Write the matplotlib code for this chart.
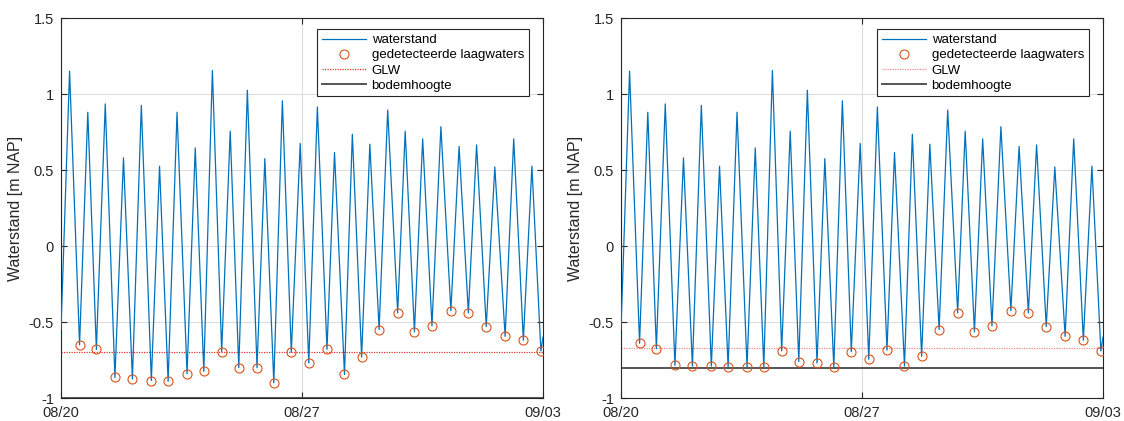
import matplotlib
matplotlib.use("Agg")
import matplotlib.pyplot as plt
import numpy as np

plt.rcParams['font.family'] = ['Liberation Sans', 'DejaVu Sans']

# days since 08/20
peak_t = [0.249, 0.778, 1.286, 1.815, 2.333, 2.862, 3.370, 3.899, 4.397, 4.915,
          5.413, 5.921, 6.430, 6.948, 7.446, 7.944, 8.462, 8.970, 9.489, 9.997,
          10.505, 11.034, 11.563, 12.071, 12.600, 13.149, 13.678]
peak_v = [1.15, 0.88, 0.935, 0.58, 0.925, 0.525, 0.88, 0.645, 1.155, 0.755,
          1.025, 0.575, 0.955, 0.675, 0.915, 0.615, 0.735, 0.67, 0.895, 0.755,
          0.705, 0.785, 0.655, 0.665, 0.52, 0.705, 0.525]
low_t = [0.539, 1.027, 1.566, 2.074, 2.624, 3.111, 3.661, 4.148, 4.667, 5.164,
         5.693, 6.181, 6.689, 7.197, 7.726, 8.234, 8.732, 9.240, 9.779, 10.266,
         10.775, 11.324, 11.832, 12.351, 12.900, 13.429, 13.938]
low_left = [-0.65, -0.68, -0.865, -0.875, -0.885, -0.89, -0.84, -0.825, -0.695, -0.80,
            -0.80, -0.90, -0.70, -0.77, -0.68, -0.845, -0.73, -0.55, -0.44, -0.565,
            -0.525, -0.425, -0.44, -0.53, -0.595, -0.62, -0.69]
low_right = [-0.64, -0.675, -0.785, -0.79, -0.79, -0.795, -0.795, -0.795, -0.69, -0.76,
             -0.77, -0.795, -0.695, -0.745, -0.685, -0.79, -0.725, -0.55, -0.44, -0.565,
             -0.525, -0.425, -0.44, -0.53, -0.595, -0.62, -0.69]
start_t, start_v = 0.0, -0.55
end_t, end_v = 14.0, -0.6

glw_left, glw_right = -0.70, -0.67
bodem_left, bodem_right = -1.0, -0.805

xtick_pos = [0, 7, 14]
xtick_lab = ['08/20', '08/27', '09/03']
ytick_pos = [-1, -0.5, 0, 0.5, 1, 1.5]
ytick_lab = ['-1', '-0.5', '0', '0.5', '1', '1.5']


def series(lows):
    t = np.array([start_t] + peak_t + low_t + [end_t])
    v = np.array([start_v] + peak_v + lows + [end_v])
    order = np.argsort(t)
    return t[order], v[order]


fig = plt.figure(figsize=(11.24, 4.21), dpi=100)
ax1 = fig.add_axes([61 / 1124, 23 / 421, 482 / 1124, 380 / 421])
ax2 = fig.add_axes([621 / 1124, 23 / 421, 482 / 1124, 380 / 421])

dark = '#262626'
for ax, lows, glw, bodem, glwcol in [(ax1, low_left, glw_left, bodem_left, '#e3342a'),
                                     (ax2, low_right, glw_right, bodem_right, '#f08a8a')]:
    t, v = series(lows)
    ax.plot(t, v, color='#0072BD', lw=0.9, label='waterstand', zorder=3)
    ax.plot(low_t, lows, 'o', mfc='none', mec='#D95319', ms=6.5, mew=0.8,
            label='gedetecteerde laagwaters', zorder=4)
    ax.axhline(glw, color=glwcol, ls=(0, (1, 1)), lw=0.9, label='GLW', zorder=2)
    ax.axhline(bodem, color='#555555', lw=1.4, label='bodemhoogte', zorder=2)

    ax.set_xlim(0, 14)
    ax.set_ylim(-1, 1.5)
    ax.set_xticks(xtick_pos)
    ax.set_xticklabels(xtick_lab)
    ax.set_yticks(ytick_pos)
    ax.set_yticklabels(ytick_lab)
    ax.grid(True, color='#dcdcdc', lw=0.8)
    ax.set_axisbelow(True)
    ax.tick_params(direction='in', top=True, right=True, length=4, width=0.8,
                   colors=dark, labelsize=10.5)
    ax.tick_params(axis='x', pad=6)
    ax.tick_params(axis='y', pad=5)
    for s in ax.spines.values():
        s.set_color(dark)
        s.set_linewidth(0.8)
    ax.set_ylabel('Waterstand [m NAP]', fontsize=11.5, color=dark, labelpad=4)
    leg = ax.legend(loc='upper right', bbox_to_anchor=(0.97, 0.97), fontsize=9.5,
                    handlelength=3.3, handletextpad=0.45, borderpad=0.35,
                    labelspacing=0.22, fancybox=False, framealpha=1,
                    edgecolor=dark, borderaxespad=0)
    leg.get_frame().set_linewidth(0.8)

fig.savefig('out.png', dpi=100)
